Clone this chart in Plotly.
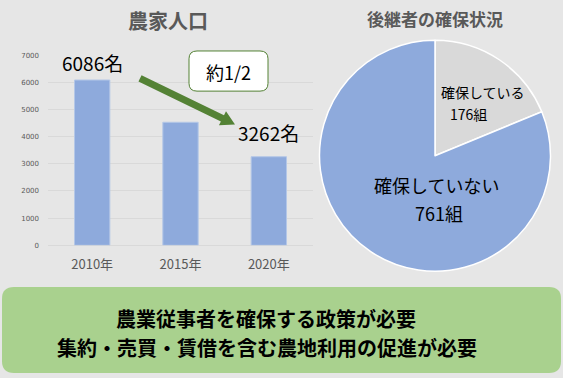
import math
import plotly.graph_objects as go

W, H = 563, 378

# ---- data ----
years = ["2010年", "2015年", "2020年"]
farm_pop = [6086, 4530, 3262]
pop_labels = ["6086名", "", "3262名"]
label_shift = [2, 0, 9]

pie_labels = ["確保している", "確保していない"]
pie_values = [176, 761]
pie_colors = ["#d9d9d9", "#8eaadc"]

y_ticks = [0, 1000, 2000, 3000, 4000, 5000, 6000, 7000]

FONT = "Noto Sans CJK JP"
BG = "#e6e6e6"


def px(x):
    return x / W


def py(y):
    return 1 - y / H


fig = go.Figure()

fig.add_trace(go.Bar(
    x=years, y=farm_pop, width=0.4,
    marker=dict(color="#8eaadc", line=dict(color="#b4c7e7", width=1)),
    showlegend=False, hoverinfo="skip",
))

fig.add_trace(go.Pie(
    labels=pie_labels, values=pie_values, sort=False, direction="clockwise",
    rotation=0, marker=dict(colors=pie_colors, line=dict(color="white", width=1.5)),
    textinfo="none", showlegend=False, hoverinfo="skip",
    domain=dict(x=[px(317), px(553)], y=[py(273), py(37)]),
))

annotations = []
for yr, v, lab, sh in zip(years, farm_pop, pop_labels, label_shift):
    if lab:
        annotations.append(dict(
            x=yr, y=v, xref="x", yref="y", text=lab, showarrow=False,
            xanchor="center", yanchor="bottom", yshift=sh,
            font=dict(family=FONT, size=19, color="black"),
        ))


def note(x, y, text, size, color="black"):
    annotations.append(dict(x=px(x), y=py(y), xref="paper", yref="paper",
                            text=text, showarrow=False,
                            xanchor="center", yanchor="middle", align="center",
                            font=dict(family=FONT, size=size, color=color)))


# titles
note(168, 17, "<b>農家人口</b>", 20, "#595959")
note(435, 15, "<b>後継者の確保状況</b>", 17, "#595959")

# pie labels
note(483, 90, pie_labels[0], 14)
note(468, 112, f"{pie_values[0]}組", 14)
note(436, 185, pie_labels[1], 18)
note(439, 214, f"{pie_values[1]}組", 18)

# 約1/2 box text
note(228, 69, "約1/2", 18)

# bottom box text
note(266, 321, "<b>農業従事者を確保する政策が必要</b>", 20)
note(267, 351, "<b>集約・売買・賃借を含む農地利用の促進が必要</b>", 20)


def rrect(x0, y0, x1, y1, r):
    return (f"M {px(x0+r)} {py(y0)} L {px(x1-r)} {py(y0)} "
            f"Q {px(x1)} {py(y0)} {px(x1)} {py(y0+r)} "
            f"L {px(x1)} {py(y1-r)} Q {px(x1)} {py(y1)} {px(x1-r)} {py(y1)} "
            f"L {px(x0+r)} {py(y1)} Q {px(x0)} {py(y1)} {px(x0)} {py(y1-r)} "
            f"L {px(x0)} {py(y0+r)} Q {px(x0)} {py(y0)} {px(x0+r)} {py(y0)} Z")


# arrow polygon
x0a, y0a, x1a, y1a = 140, 76, 235, 123
dx, dy = x1a - x0a, y1a - y0a
L = math.hypot(dx, dy)
ux, uy = dx / L, dy / L
nx, ny = -uy, ux
sw, hw, hl = 3.5, 8, 14
bx, by = x1a - ux * hl, y1a - uy * hl
pts = [
    (x0a + nx * sw, y0a + ny * sw),
    (bx + nx * sw, by + ny * sw),
    (bx + nx * hw, by + ny * hw),
    (x1a, y1a),
    (bx - nx * hw, by - ny * hw),
    (bx - nx * sw, by - ny * sw),
    (x0a - nx * sw, y0a - ny * sw),
]
arrow_path = "M " + " L ".join(f"{px(a)} {py(b)}" for a, b in pts) + " Z"

shapes = [
    dict(type="path", xref="paper", yref="paper", path=rrect(2, 289, 561, 377, 12),
         fillcolor="#a9d18e", line=dict(width=0), layer="above"),
    dict(type="path", xref="paper", yref="paper", path=rrect(189, 48, 268, 89, 8),
         fillcolor="white", line=dict(color="#548235", width=1), layer="above"),
    dict(type="path", xref="paper", yref="paper", path=arrow_path,
         fillcolor="#548235", line=dict(width=0), layer="above"),
]

fig.update_layout(
    width=W, height=H,
    margin=dict(l=0, r=0, t=0, b=0),
    paper_bgcolor=BG, plot_bgcolor=BG,
    bargap=0.6,
    xaxis=dict(domain=[px(48), px(313)], range=[-0.5, 2.5], showgrid=False,
               showline=False, ticks="", ticklen=0, ticklabelstandoff=10,
               tickfont=dict(family=FONT, size=13, color="#595959")),
    yaxis=dict(domain=[py(246.5), py(52.3)], range=[0, 7000], tickvals=y_ticks,
               showgrid=True, gridcolor="#d9d9d9", gridwidth=1,
               zeroline=True, zerolinecolor="#d9d9d9", zerolinewidth=1,
               tickfont=dict(family="DejaVu Sans", size=7, color="#595959"),
               ticks="", ticklabelstandoff=8),
    annotations=annotations,
    shapes=shapes,
)

fig.write_html("out.html", config={"displayModeBar": False},
               post_script="document.body.style.margin='0';document.body.style.overflow='hidden';")
